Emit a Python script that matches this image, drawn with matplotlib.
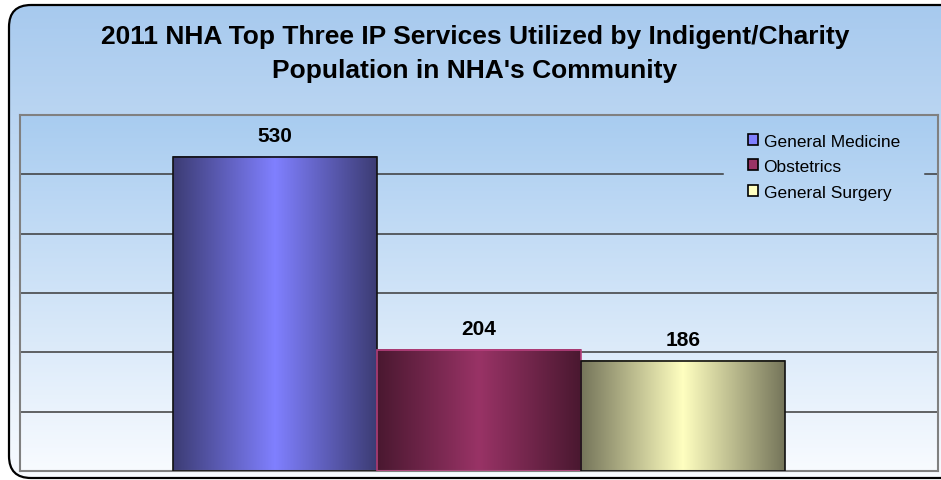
import matplotlib
matplotlib.use('Agg')
import matplotlib.pyplot as plt
import numpy as np
from matplotlib.colors import LinearSegmentedColormap
from matplotlib.patches import FancyBboxPatch, Patch

plt.rcParams['font.family'] = ['Liberation Sans', 'DejaVu Sans']

title_lines = ["2011 NHA Top Three IP Services Utilized by Indigent/Charity",
               "Population in NHA's Community"]
series = ["General Medicine", "Obstetrics", "General Surgery"]
values = [530, 204, 186]
center_colors = ["#8080FF", "#993366", "#FFFFC0"]
dark_colors = ["#3C3C74", "#4A1830", "#75755A"]
outline_colors = ["#111111", "#B8407E", "#111111"]

W, H = 941, 481
fig = plt.figure(figsize=(W / 100, H / 100), dpi=100, facecolor='white')

# ---- figure background with rounded border ----
bg = fig.add_axes([0, 0, 1, 1], zorder=0)
bg.axis('off')
vgrad = np.linspace(0, 1, 256).reshape(-1, 1)
bgcmap = LinearSegmentedColormap.from_list('bg', ['#A6C9EE', '#F8FBFF'])
box = FancyBboxPatch((9, 6), 960, 473, boxstyle='round,pad=0,rounding_size=22',
                     fc='none', ec='black', lw=1.6, zorder=3)
bg.add_patch(box)
im = bg.imshow(vgrad, extent=(0, W, H, 0), cmap=bgcmap, aspect='auto', zorder=1)
im.set_clip_path(box)
bg.set_xlim(0, W)
bg.set_ylim(H, 0)

for i, line in enumerate(title_lines):
    fig.text(475 / W, 1 - (37 + 34 * i) / H, line, ha='center', va='center',
             fontsize=19, fontweight='bold', color='black')

# ---- plot area ----
ax = fig.add_axes([20 / W, 1 - 472 / H, 918 / W, 356 / H], zorder=1)
ax.patch.set_alpha(0)
pcmap = LinearSegmentedColormap.from_list('pa', ['#A8CCF0', '#F8FBFF'])
ax.imshow(vgrad, extent=(-0.5, 0.5, 0, 600), cmap=pcmap, aspect='auto', zorder=0)

for y in range(100, 600, 100):
    if y == 500:
        ax.axhline(y, xmin=0, xmax=0.7658, color='#3A3A3A', lw=1.1, zorder=1)
        ax.axhline(y, xmin=0.9858, xmax=1, color='#3A3A3A', lw=1.1, zorder=1)
    else:
        ax.axhline(y, color='#3A3A3A', lw=1.1, zorder=1)

w = 1 / 4.5
xs = [(i - 1) * w for i in range(len(values))]
bars = ax.bar(xs, values, width=w, facecolor='none', edgecolor=outline_colors,
              lw=1.2, zorder=3)
hgrad = np.linspace(0, 1, 256).reshape(1, -1)
for b, c, d in zip(bars, center_colors, dark_colors):
    cm = LinearSegmentedColormap.from_list('b', [d, c, d])
    x0, y0 = b.get_x(), b.get_y()
    ax.imshow(hgrad, extent=(x0, x0 + b.get_width(), y0, y0 + b.get_height()),
              cmap=cm, aspect='auto', zorder=2)
    ax.annotate(f"{b.get_height():.0f}", (x0 + b.get_width() / 2, y0 + b.get_height()),
                xytext=(0, 12), textcoords='offset pixels', ha='center', va='bottom',
                fontsize=15, fontweight='bold')

ax.set_xlim(-0.5, 0.5)
ax.set_ylim(0, 600)
ax.set_xticks([])
ax.set_yticks([])
for s in ax.spines.values():
    s.set_color('#808080')
    s.set_linewidth(1.5)

handles = [Patch(facecolor=c, edgecolor='black', lw=1.2) for c in center_colors]
leg = ax.legend(handles, series, loc='upper left', bbox_to_anchor=(0.793, 0.948),
                frameon=False, fontsize=12.5, handlelength=0.6, handleheight=0.6,
                handletextpad=0.3, labelspacing=0.61, borderpad=0, borderaxespad=0)
leg.set_zorder(5)

fig.savefig('out.png', dpi=100, facecolor='white')
